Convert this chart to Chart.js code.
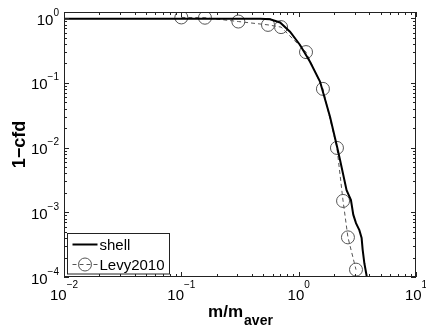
<!DOCTYPE html>
<html>
<head>
<meta charset="utf-8">
<script src="https://cdn.jsdelivr.net/npm/chart.js@4"></script>
<style>
  html, body { margin: 0; padding: 0; background: #fff; }
  #wrap { width: 426px; height: 325px; }
</style>
</head>
<body>
<div id="wrap"><canvas id="cfdChart" width="426" height="325"></canvas></div>
<script>
// ---- data ----
const shellLabel = "shell";
const shellX = [0.01, 0.40, 0.47, 0.57, 0.694, 0.844, 1.027, 1.249, 1.52, 1.85, 2.12, 2.25, 2.56, 2.79, 2.92, 3.08, 3.29, 3.44, 3.51, 3.63, 3.81, 3.9];
const shellY = [0.985, 0.985, 0.98, 0.965, 0.86, 0.62, 0.387, 0.213, 0.105, 0.030, 0.0105, 0.0065, 0.0022, 0.00155, 0.00092, 0.00068, 0.00053, 0.0004, 0.000265, 0.000163, 0.0001, 0.00008];

const levyLabel = "Levy2010";
const levyX = [0.1, 0.159, 0.306, 0.548, 0.708, 1.155, 1.61, 2.12, 2.39, 2.63, 3.08];
const levyY = [1.03, 1.02, 0.89, 0.79, 0.73, 0.30, 0.081, 0.0099, 0.0015, 0.00041, 0.00013];

const xTicks = [0.01, 0.1, 1, 10];
const xExp = ["\u22122", "\u22121", "0", "1"];
const yTicks = [1, 0.1, 0.01, 0.001, 0.0001];
const yExp = ["0", "\u22121", "\u22122", "\u22123", "\u22124"];

const xTitle = "m/m";
const xTitleSub = "aver";
const yTitle = "1\u2212cfd";

const FONT = '"Liberation Sans", Arial, Helvetica, sans-serif';
const AXIS_COLOR = "#222";

function toPoints(xs, ys) {
  return xs.map((x, i) => ({ x: x, y: ys[i] }));
}

// ---- axes box, ticks, labels, legend (matlab-like) ----
const matlabAxes = {
  id: "matlabAxes",
  afterDatasetsDraw(chart) {
    const ctx = chart.ctx;
    const a = chart.chartArea;
    const xs = chart.scales.x;
    const ys = chart.scales.y;
    ctx.save();

    // box
    ctx.strokeStyle = AXIS_COLOR;
    ctx.lineWidth = 1;
    ctx.strokeRect(Math.round(a.left) + 0.5, Math.round(a.top) + 0.5,
      Math.round(a.right - a.left) - 1, Math.round(a.bottom - a.top) - 1);

    // ticks, inward on all four sides
    const major = 5, minor = 3;
    ctx.beginPath();
    for (let d = -2; d <= 1; d++) {
      for (let m = 1; m <= 9; m++) {
        const v = m * Math.pow(10, d);
        if (d === 1 && m > 1) continue;
        const px = Math.round(xs.getPixelForValue(v)) + 0.5;
        const len = m === 1 ? major : minor;
        ctx.moveTo(px, a.bottom); ctx.lineTo(px, a.bottom - len);
        ctx.moveTo(px, a.top); ctx.lineTo(px, a.top + len);
      }
    }
    for (let d = -4; d <= 0; d++) {
      for (let m = 1; m <= 9; m++) {
        const v = m * Math.pow(10, d);
        if (v > ys.max) continue;
        const py = Math.round(ys.getPixelForValue(v)) + 0.5;
        const len = m === 1 ? major : minor;
        ctx.moveTo(a.left, py); ctx.lineTo(a.left + len, py);
        ctx.moveTo(a.right, py); ctx.lineTo(a.right - len, py);
      }
    }
    ctx.stroke();

    // tick labels 10^n
    ctx.fillStyle = "#000";
    ctx.textBaseline = "alphabetic";
    const baseFont = "15px " + FONT;
    const supFont = "10px " + FONT;
    xTicks.forEach((v, i) => {
      ctx.font = baseFont;
      const wb = ctx.measureText("10").width;
      ctx.font = supFont;
      const ws = ctx.measureText(xExp[i]).width;
      const px = xs.getPixelForValue(v);
      const x0 = px - (wb + ws) / 2;
      ctx.textAlign = "left";
      ctx.font = baseFont;
      ctx.fillText("10", x0, a.bottom + 22.5);
      ctx.font = supFont;
      ctx.fillText(xExp[i], x0 + wb, a.bottom + 10.5);
    });
    yTicks.forEach((v, i) => {
      const py = ys.getPixelForValue(v);
      ctx.font = supFont;
      const ws = ctx.measureText(yExp[i]).width;
      const right = a.left - 5;
      ctx.textAlign = "left";
      ctx.fillText(yExp[i], right - ws, py - 2.5);
      ctx.textAlign = "right";
      ctx.font = baseFont;
      ctx.fillText("10", right - ws, py + 6.5);
    });

    // x title with subscript
    const mainFont = "bold 17px " + FONT;
    const subFont = "bold 14px " + FONT;
    ctx.font = mainFont;
    const wm = ctx.measureText(xTitle).width;
    ctx.font = subFont;
    const wsub = ctx.measureText(xTitleSub).width;
    const cx = (a.left + a.right) / 2;
    const tx = cx - (wm + wsub) / 2;
    ctx.textAlign = "left";
    ctx.font = mainFont;
    ctx.fillText(xTitle, tx, 316.5);
    ctx.font = subFont;
    ctx.fillText(xTitleSub, tx + wm + 1, 325);

    // y title
    ctx.save();
    ctx.translate(25, (a.top + a.bottom) / 2);
    ctx.rotate(-Math.PI / 2);
    ctx.font = "bold 18px " + FONT;
    ctx.textAlign = "center";
    ctx.fillText(yTitle, 0, 0);
    ctx.restore();

    // legend box, lower left inside axes
    const lx = a.left + 3.5, ly = a.bottom - 43.5, lw = 102, lh = 40.5;
    ctx.fillStyle = "#fff";
    ctx.fillRect(lx, ly, lw, lh);
    ctx.strokeStyle = AXIS_COLOR;
    ctx.lineWidth = 1;
    ctx.strokeRect(lx, ly, lw, lh);

    const ds = chart.data.datasets;
    const rowY = [ly + 10, ly + 30];
    ds.forEach((d, i) => {
      const y = Math.round(rowY[i]) + 0.5;
      ctx.strokeStyle = d.borderColor;
      ctx.lineWidth = d.borderWidth;
      ctx.setLineDash(d.borderDash || []);
      ctx.beginPath();
      ctx.moveTo(lx + 5, y);
      ctx.lineTo(lx + 30, y);
      ctx.stroke();
      ctx.setLineDash([]);
      if (d.pointRadius > 0) {
        ctx.lineWidth = d.pointBorderWidth;
        ctx.beginPath();
        ctx.arc(lx + 17.5, y, d.pointRadius, 0, Math.PI * 2);
        ctx.stroke();
      }
      ctx.fillStyle = "#000";
      ctx.font = "15px " + FONT;
      ctx.textAlign = "left";
      ctx.textBaseline = "middle";
      ctx.fillText(d.label, lx + 32, y + 1);
      ctx.textBaseline = "alphabetic";
    });

    ctx.restore();
  }
};

new Chart(document.getElementById("cfdChart"), {
  type: "scatter",
  data: {
    datasets: [
      {
        label: shellLabel,
        data: toPoints(shellX, shellY),
        showLine: true,
        borderColor: "#000",
        borderWidth: 2,
        pointRadius: 0,
        pointHoverRadius: 0,
        tension: 0,
      },
      {
        label: levyLabel,
        data: toPoints(levyX, levyY),
        showLine: true,
        borderColor: "#555",
        borderWidth: 1,
        borderDash: [4, 3],
        pointStyle: "circle",
        pointRadius: 6.5,
        pointBorderWidth: 1,
        pointBorderColor: "#555",
        pointBackgroundColor: "rgba(0,0,0,0)",
        tension: 0,
      },
    ],
  },
  options: {
    responsive: false,
    devicePixelRatio: 1,
    animation: false,
    layout: { padding: { left: 64, top: 12, right: 10, bottom: 48 } },
    plugins: {
      legend: { display: false },
      tooltip: { enabled: false },
    },
    scales: {
      x: {
        type: "logarithmic",
        min: 0.01,
        max: 10,
        grid: { display: false },
        border: { display: false },
        ticks: { display: false },
        afterFit: (s) => { s.height = 0; },
      },
      y: {
        type: "logarithmic",
        min: 0.0001,
        max: 1.25,
        grid: { display: false },
        border: { display: false },
        ticks: { display: false },
        afterFit: (s) => { s.width = 0; },
      },
    },
  },
  plugins: [matlabAxes],
});
</script>
</body>
</html>
